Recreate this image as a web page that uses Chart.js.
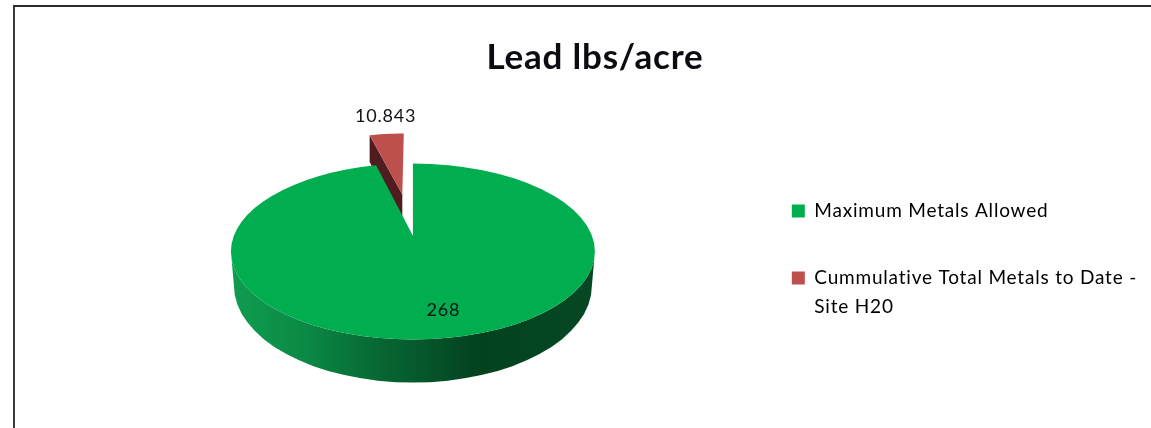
<!DOCTYPE html>
<html>
<head>
<meta charset="utf-8">
<style>
html,body{margin:0;padding:0;background:#fff;overflow:hidden;width:1151px;height:428px}
#frame{position:absolute;left:13px;top:5px;right:0;bottom:0;border-left:2px solid #3a3a3a;border-top:2px solid #2a2a2a}
canvas{position:absolute;left:0;top:0}
</style>
<script src="https://cdn.jsdelivr.net/npm/chart.js@4/dist/chart.umd.js"></script>
</head>
<body>
<div id="frame"></div>
<canvas id="c" width="1151" height="428"></canvas>
<script>
const titleText = 'Lead lbs/acre';
const categories = ['Maximum Metals Allowed', 'Cummulative Total Metals to Date - Site H20'];
const legendLines = [['Maximum Metals Allowed'], ['Cummulative Total Metals to Date -', 'Site H20']];
const values = [268, 10.843];
const valueLabels = ['268', '10.843'];
const sliceColors = ['#00ae50', '#bd4f4d'];
const cutColors = ['#0a7a3c', '#4f1d1f'];
const sliceOffsets = [0, 97];

const TILT = 0.4835;      // ellipse height / width of the pie top
const PERSP = 0.18;       // how far the projected pie centre sits behind the ellipse centre
const FONT = 'Lato, "Open Sans", sans-serif';
const TRACKING = '0.8px'; // the source text is set wider than Lato

const pie3d = {
  id: 'pie3d',
  beforeUpdate(chart) { chart.ctx.letterSpacing = TRACKING; },
  beforeDraw(chart) { chart.ctx.letterSpacing = TRACKING; },
  afterLayout(chart) {
    // legend sits lower than centred, pie further right than the leftover space
    chart.legend.top += 57;
    chart.legend.bottom += 57;
    chart.chartArea.left += 29;
    chart.chartArea.width -= 29;
  },
  beforeDatasetsDraw(chart) {
    const ctx = chart.ctx;
    const arcs = chart.getDatasetMeta(0).data;
    const first = arcs[0];
    const cx = first.x, cy = first.y;
    const rx = first.outerRadius, ry = rx * TILT;
    const w = Math.sqrt(1 - PERSP * PERSP);
    const proj = (u, v) => {
      const k = 1 - PERSP * v;
      return { x: u * w / k, y: (v - PERSP) / k, s: 1 / k };
    };
    const toPx = p => ({ x: cx + p.x * rx, y: cy + p.y * ry });
    const disk = (a, r, ox, oy) => ({ u: Math.cos(a) * r + ox, v: Math.sin(a) * r + oy });

    const drawSlice = (arc, i) => {
      const off = (arc.options.offset || 0) / rx;
      const mid = (arc.startAngle + arc.endAngle) / 2;
      const ox = Math.cos(mid) * off, oy = Math.sin(mid) * off;
      const a0 = disk(arc.startAngle, 1, ox, oy), a1 = disk(arc.endAngle, 1, ox, oy);
      const c = proj(ox, oy);
      const p0 = proj(a0.u, a0.v), p1 = proj(a1.u, a1.v);
      const depth = 34;
      if (off === 0) {
        // rim wall of the main slice
        const lowCy = cy + 34, lowRx = rx - 3, lowRy = ry + 9;
        const g = ctx.createLinearGradient(cx - rx, 0, cx + rx, 0);
        g.addColorStop(0, '#109c50');
        g.addColorStop(0.2, '#0b8a45');
        g.addColorStop(0.35, '#087038');
        g.addColorStop(0.5, '#065a2d');
        g.addColorStop(0.68, '#03421f');
        g.addColorStop(1, '#054823');
        ctx.beginPath();
        ctx.ellipse(cx, cy, rx, ry, 0, 0, Math.PI);
        ctx.lineTo(cx - lowRx, lowCy);
        ctx.ellipse(cx, lowCy, lowRx, lowRy, 0, Math.PI, 0, true);
        ctx.closePath();
        ctx.fillStyle = g;
        ctx.fill();
      } else {
        // dark cut face of the pulled-out slice
        const P0 = toPx(p0), C = toPx(c);
        ctx.beginPath();
        ctx.moveTo(P0.x, P0.y);
        ctx.lineTo(C.x, C.y);
        ctx.lineTo(C.x, C.y + depth * c.s);
        ctx.lineTo(P0.x, P0.y + depth * p0.s);
        ctx.closePath();
        ctx.fillStyle = cutColors[i];
        ctx.fill();
      }
      // top face
      const C = toPx(c), P0 = toPx(p0);
      ctx.beginPath();
      ctx.moveTo(C.x, C.y);
      ctx.lineTo(P0.x, P0.y);
      if (off === 0) {
        ctx.ellipse(cx, cy, rx, ry, 0, Math.atan2(p0.y, p0.x), Math.atan2(p1.y, p1.x), false);
      } else {
        // pulled-out slice sits on a larger, receding outline
        const n = 12;
        for (let k = 1; k <= n; k++) {
          const a = arc.startAngle + (arc.endAngle - arc.startAngle) * k / n;
          const d = disk(a, 1, ox, oy);
          const P = toPx(proj(d.u, d.v));
          ctx.lineTo(P.x, P.y);
        }
      }
      ctx.closePath();
      ctx.fillStyle = arc.options.backgroundColor;
      ctx.fill();
    };

    drawSlice(arcs[1], 1);
    drawSlice(arcs[0], 0);

    // value labels
    ctx.save();
    ctx.font = '18px ' + FONT;
    ctx.fillStyle = '#111118';
    ctx.textAlign = 'center';
    ctx.textBaseline = 'middle';
    const a0 = arcs[0], a1 = arcs[1];
    const m0 = (a0.startAngle + a0.endAngle) / 2;
    const d0 = disk(m0 - 0.07, 0.77, 0, 0);
    const L0 = toPx(proj(d0.u, d0.v));
    ctx.fillText(valueLabels[0], L0.x, L0.y);
    const off1 = a1.options.offset / rx;
    const m1 = (a1.startAngle + a1.endAngle) / 2;
    const d1 = disk(m1, 1, Math.cos(m1) * off1, Math.sin(m1) * off1);
    const L1 = toPx(proj(d1.u, d1.v));
    ctx.fillText(valueLabels[1], L1.x - 1, L1.y - 18);
    ctx.restore();
    return false;
  }
};

new Chart(document.getElementById('c'), {
  type: 'pie',
  data: {
    labels: categories,
    datasets: [{
      data: values,
      backgroundColor: sliceColors,
      offset: sliceOffsets,
      borderWidth: 0
    }]
  },
  options: {
    responsive: false,
    animation: false,
    radius: 182,
    layout: { padding: { left: 43, right: 4, top: 0, bottom: 14 } },
    plugins: {
      tooltip: { enabled: false },
      title: {
        display: true,
        text: titleText,
        color: '#0b0b12',
        font: { family: FONT, size: 35, weight: 'bold', lineHeight: 1.2 },
        padding: { top: 37, bottom: 10 }
      },
      legend: {
        position: 'right',
        labels: {
          boxWidth: 13,
          boxHeight: 13,
          padding: 38,
          color: '#14142a',
          font: { family: FONT, size: 19, lineHeight: 1.526 },
          generateLabels() {
            return legendLines.map((text, i) => ({
              text,
              fillStyle: sliceColors[i],
              strokeStyle: sliceColors[i],
              lineWidth: 0,
              hidden: false,
              index: i
            }));
          }
        }
      }
    }
  },
  plugins: [pie3d]
});
</script>
</body>
</html>
